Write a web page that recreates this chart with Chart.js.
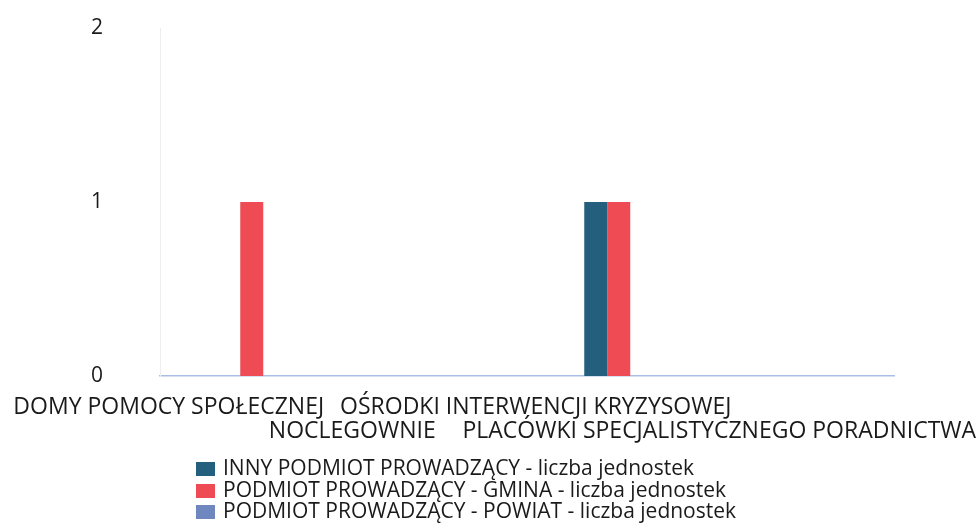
<!DOCTYPE html>
<html>
<head>
<meta charset="utf-8">
<script src="https://cdn.jsdelivr.net/npm/chart.js@4"></script>
<style>
  html, body { margin: 0; padding: 0; background: #fff; }
  .wrap { position: relative; width: 980px; height: 531px; }
  #legend { position: absolute; left: 196px; top: 457px; font-family: "Open Sans", sans-serif; font-size: 21px; color: #1a1a1a; }
  #legend div { height: 21.5px; line-height: 21.5px; white-space: nowrap; }
  #legend span { display: inline-block; width: 19px; height: 14px; margin-right: 8px; vertical-align: -1px; }
</style>
</head>
<body>
<div class="wrap">
  <canvas id="myChart" width="980" height="531"></canvas>
  <div id="legend"></div>
</div>
<script>
// categories (second-row labels start with an empty line)
const categories = [
  ["DOMY POMOCY SPOŁECZNEJ"],
  ["", "NOCLEGOWNIE"],
  ["OŚRODKI INTERWENCJI KRYZYSOWEJ"],
  ["", "PLACÓWKI SPECJALISTYCZNEGO PORADNICTWA"]
];
const seriesNames = [
  "INNY PODMIOT PROWADZĄCY - liczba jednostek",
  "PODMIOT PROWADZĄCY - GMINA - liczba jednostek",
  "PODMIOT PROWADZĄCY - POWIAT - liczba jednostek"
];
const innyValues = [0, 0, 1, 0];
const gminaValues = [1, 0, 1, 0];
const powiatValues = [0, 0, 0, 0];
const yTicks = [0, 1, 2];

const colors = ["#245f7e", "#ee4b55", "#6f87bf"];

var ctx = document.getElementById("myChart");

var myChart = new Chart(ctx, {
  type: "bar",
  data: {
    labels: categories,
    datasets: [
      { label: seriesNames[0], data: innyValues, backgroundColor: colors[0] },
      { label: seriesNames[1], data: gminaValues, backgroundColor: colors[1] },
      { label: seriesNames[2], data: powiatValues, backgroundColor: colors[2] },
    ],
  },
  options: {
    responsive: false,
    animation: false,
    devicePixelRatio: 1,
    layout: { padding: { top: 28, right: 86, left: 0, bottom: 0 } },
    plugins: {
      legend: { display: false },
      tooltip: { enabled: false },
    },
    datasets: {
      bar: { barPercentage: 1, categoryPercentage: 0.376 },
    },
    scales: {
      x: {
        grid: { display: false, drawTicks: false },
        border: { display: true, color: "#a9bfe6", width: 1.5 },
        ticks: {
          color: "#1a1a1a",
          font: { family: "Open Sans", size: 23, lineHeight: 1.05 },
          padding: 19,
          labelOffset: -83,
          maxRotation: 0,
          autoSkip: false,
        },
        afterFit: (scale) => {
          scale.height = 155;
          scale.paddingLeft = 0;
          scale.paddingRight = 0;
        },
      },
      y: {
        min: 0,
        max: 2,
        grid: { display: false, drawTicks: false },
        border: { display: true, color: "#eeeeee", width: 1 },
        afterBuildTicks: (scale) => {
          scale.ticks = yTicks.map((v) => ({ value: v }));
        },
        ticks: {
          color: "#1a1a1a",
          font: { family: "Open Sans", size: 21 },
          padding: 57,
        },
        afterFit: (scale) => {
          scale.width = 160;
          // tick padding would otherwise push the chart area down
          scale.paddingTop = 0;
          scale.paddingBottom = 0;
        },
      },
    },
  },
});

// legend
let legend = document.getElementById("legend");
myChart.data.datasets.map((ds) => {
  let row = document.createElement("div");
  row.innerHTML = `<span style="background:${ds.backgroundColor}"></span>${ds.label}`;
  legend.appendChild(row);
});
</script>
</body>
</html>
